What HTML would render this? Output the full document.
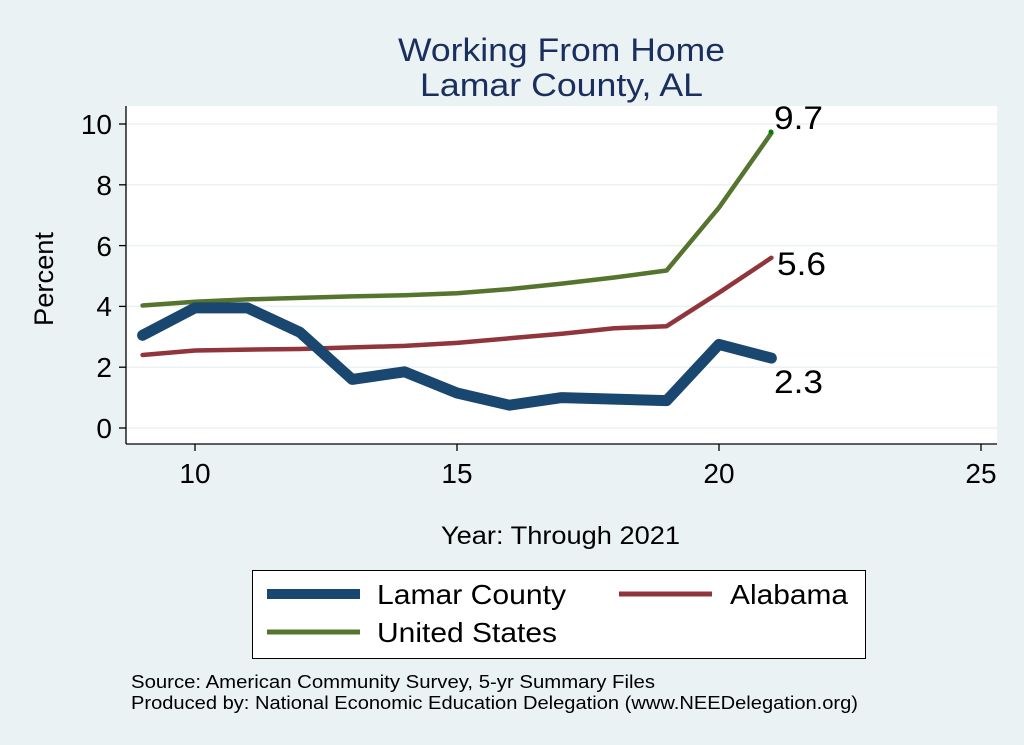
<!DOCTYPE html>
<html><head><style>
body{margin:0;background:#eaf2f3;}
svg{display:block;font-family:"Liberation Sans",sans-serif;}
</style></head><body>
<svg width="1024" height="745" viewBox="0 0 1024 745">
<rect width="1024" height="745" fill="#eaf2f3"/>
<text x="398" y="61" font-size="32" fill="#1a2f5e" textLength="327" lengthAdjust="spacingAndGlyphs">Working From Home</text>
<text x="420" y="96" font-size="32" fill="#1a2f5e" textLength="283" lengthAdjust="spacingAndGlyphs">Lamar County, AL</text>
<rect x="126" y="106" width="871" height="338" fill="#fff"/>
<g stroke="#eaf2f3" stroke-width="1.5">
<line x1="126" x2="997" y1="428" y2="428"/><line x1="126" x2="997" y1="367.2" y2="367.2"/>
<line x1="126" x2="997" y1="306.4" y2="306.4"/><line x1="126" x2="997" y1="245.6" y2="245.6"/>
<line x1="126" x2="997" y1="184.8" y2="184.8"/><line x1="126" x2="997" y1="124" y2="124"/>
</g>
<g stroke="#000" stroke-width="1.3">
<line x1="126" y1="106" x2="126" y2="444"/><line x1="126" y1="444" x2="997" y2="444"/>
<line x1="119" x2="126" y1="428" y2="428"/><line x1="119" x2="126" y1="367.2" y2="367.2"/>
<line x1="119" x2="126" y1="306.4" y2="306.4"/><line x1="119" x2="126" y1="245.6" y2="245.6"/>
<line x1="119" x2="126" y1="184.8" y2="184.8"/><line x1="119" x2="126" y1="124" y2="124"/>
<line x1="195" x2="195" y1="444" y2="451"/><line x1="457" x2="457" y1="444" y2="451"/>
<line x1="719" x2="719" y1="444" y2="451"/><line x1="981" x2="981" y1="444" y2="451"/>
</g>
<g font-size="28" text-anchor="end" fill="#000">
<text x="112" y="438">0</text><text x="112" y="377">2</text><text x="112" y="316">4</text>
<text x="112" y="256">6</text><text x="112" y="195">8</text><text x="112" y="134">10</text>
</g>
<g font-size="28" text-anchor="middle" fill="#000">
<text x="195" y="483">10</text><text x="457" y="483">15</text><text x="719" y="483">20</text><text x="981" y="483">25</text>
</g>
<text transform="translate(53,279) rotate(-90)" font-size="27" text-anchor="middle" textLength="94" lengthAdjust="spacingAndGlyphs">Percent</text>
<text x="441" y="544" font-size="25" textLength="239" lengthAdjust="spacingAndGlyphs">Year: Through 2021</text>
<g fill="none" stroke-linejoin="round" stroke-linecap="round">
<polyline stroke="#55752f" stroke-width="4.5" points="142.6,305.5 195,301.8 247.4,299.4 299.8,297.9 352.2,296.4 404.6,295.2 457,293.3 509.4,289.1 561.8,283.6 614.2,277.5 666.6,270.5 719,207.6 771.4,133.1"/>
<polyline stroke="#90353b" stroke-width="4.5" points="142.6,355 195,350.5 247.4,349.6 299.8,349 352.2,347.4 404.6,345.9 457,342.9 509.4,338.3 561.8,333.8 614.2,328.3 666.6,326.2 719,292.7 771.4,257.8"/>
<polyline stroke="#1a476f" stroke-width="11" points="142.6,335.3 195,307.9 247.4,307.9 299.8,332.2 352.2,379.4 404.6,371.8 457,393 509.4,405.2 561.8,397.6 614.2,399.1 666.6,400.6 719,344.4 771.4,358.1"/>
</g>
<circle cx="771" cy="132" r="2.5" fill="#008000"/>
<g font-size="32" fill="#000">
<text x="774" y="129" textLength="49" lengthAdjust="spacingAndGlyphs">9.7</text>
<text x="777" y="275" textLength="49" lengthAdjust="spacingAndGlyphs">5.6</text>
<text x="774" y="393" textLength="49" lengthAdjust="spacingAndGlyphs">2.3</text>
</g>
<rect x="252.5" y="570.5" width="613" height="88" fill="#fff" stroke="#000" stroke-width="1"/>
<line x1="267" x2="360" y1="594" y2="594" stroke="#1a476f" stroke-width="10"/>
<line x1="619" x2="712" y1="594" y2="594" stroke="#90353b" stroke-width="5"/>
<line x1="267" x2="360" y1="632" y2="632" stroke="#55752f" stroke-width="5"/>
<g font-size="28" fill="#000">
<text x="377" y="604" textLength="189" lengthAdjust="spacingAndGlyphs">Lamar County</text>
<text x="730" y="604" textLength="118" lengthAdjust="spacingAndGlyphs">Alabama</text>
<text x="377" y="642" textLength="180" lengthAdjust="spacingAndGlyphs">United States</text>
</g>
<g font-size="18" fill="#000">
<text x="131" y="688" textLength="524" lengthAdjust="spacingAndGlyphs">Source: American Community Survey, 5-yr Summary Files</text>
<text x="131" y="709" textLength="727" lengthAdjust="spacingAndGlyphs">Produced by: National Economic Education Delegation (www.NEEDelegation.org)</text>
</g>
</svg>
</body></html>
